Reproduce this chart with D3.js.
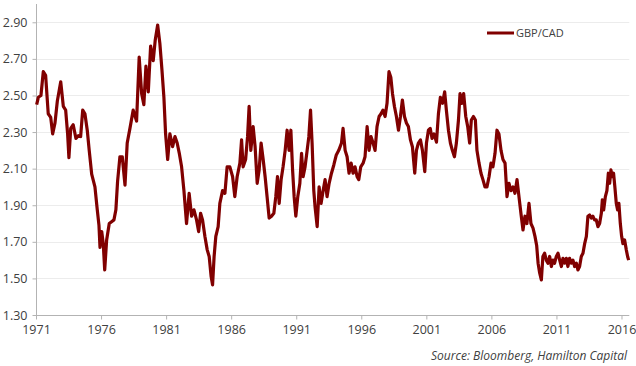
<!DOCTYPE html>
<html>
<head>
<meta charset="utf-8">
<script src="https://cdn.jsdelivr.net/npm/d3@7"></script>
<style>
  body { margin: 0; background: #fff; }
  text { font-family: "Open Sans", sans-serif; fill: #404040; }
</style>
</head>
<body>
<div id="chart-area"></div>
<script>
// GBP/CAD, values (decimal year, rate)
const years = [
  1971.05, 1971.18, 1971.38, 1971.56, 1971.74, 1971.94, 1972.13, 1972.28, 1972.46, 1972.64,
  1972.90, 1973.10, 1973.28, 1973.43, 1973.53, 1973.67, 1973.86, 1974.07, 1974.25, 1974.43,
  1974.59, 1974.76, 1974.94, 1975.09, 1975.28, 1975.53, 1975.71, 1975.84, 1975.92, 1976.05,
  1976.17, 1976.28, 1976.43, 1976.63, 1976.81, 1976.99, 1977.14, 1977.27, 1977.45, 1977.63,
  1977.84, 1978.01, 1978.22, 1978.47, 1978.73, 1978.93, 1979.12, 1979.29, 1979.45, 1979.63,
  1979.81, 1980.01, 1980.16, 1980.35, 1980.52, 1980.68, 1980.83, 1980.96, 1981.12, 1981.29,
  1981.50, 1981.68, 1981.85, 1982.01, 1982.19, 1982.37, 1982.57, 1982.77, 1982.96, 1983.14,
  1983.34, 1983.50, 1983.65, 1983.80, 1983.98, 1984.16, 1984.31, 1984.46, 1984.57, 1984.69,
  1984.82, 1985.00, 1985.13, 1985.34, 1985.52, 1985.69, 1985.90, 1986.11, 1986.28, 1986.46,
  1986.67, 1986.80, 1986.92, 1987.11, 1987.26, 1987.38, 1987.51, 1987.69, 1987.84, 1988.00,
  1988.15, 1988.30, 1988.46, 1988.61, 1988.76, 1988.92, 1989.10, 1989.28, 1989.43, 1989.56,
  1989.69, 1989.84, 1989.99, 1990.15, 1990.30, 1990.45, 1990.59, 1990.72, 1990.84, 1990.97,
  1991.12, 1991.28, 1991.41, 1991.53, 1991.68, 1991.84, 1991.97, 1992.10, 1992.22, 1992.35,
  1992.45, 1992.61, 1992.76, 1992.91, 1993.07, 1993.22, 1993.37, 1993.53, 1993.71, 1993.89,
  1994.08, 1994.27, 1994.48, 1994.60, 1994.76, 1994.91, 1995.06, 1995.22, 1995.37, 1995.52,
  1995.68, 1995.81, 1995.96, 1996.14, 1996.29, 1996.45, 1996.60, 1996.75, 1996.91, 1997.06,
  1997.21, 1997.37, 1997.52, 1997.67, 1997.83, 1997.98, 1998.13, 1998.27, 1998.40, 1998.55,
  1998.70, 1998.86, 1999.01, 1999.16, 1999.32, 1999.47, 1999.62, 1999.78, 1999.93, 2000.11,
  2000.24, 2000.39, 2000.55, 2000.70, 2000.88, 2001.01, 2001.16, 2001.30, 2001.44, 2001.59,
  2001.78, 2001.93, 2002.08, 2002.24, 2002.41, 2002.54, 2002.70, 2002.85, 2003.00, 2003.16,
  2003.31, 2003.47, 2003.59, 2003.74, 2003.87, 2004.03, 2004.18, 2004.33, 2004.46, 2004.62,
  2004.77, 2004.89, 2005.05, 2005.20, 2005.35, 2005.51, 2005.66, 2005.82, 2005.97, 2006.12,
  2006.28, 2006.43, 2006.58, 2006.74, 2006.89, 2007.05, 2007.20, 2007.35, 2007.51, 2007.66,
  2007.81, 2007.97, 2008.12, 2008.27, 2008.43, 2008.58, 2008.73, 2008.89, 2009.04, 2009.20,
  2009.35, 2009.48, 2009.59, 2009.71, 2009.84, 2009.96, 2010.09, 2010.22, 2010.35, 2010.48,
  2010.61, 2010.73, 2010.86, 2010.99, 2011.12, 2011.25, 2011.38, 2011.50, 2011.63, 2011.76,
  2011.88, 2012.01, 2012.14, 2012.27, 2012.40, 2012.53, 2012.65, 2012.78, 2012.91, 2013.04,
  2013.17, 2013.30, 2013.42, 2013.55, 2013.68, 2013.80, 2013.93, 2014.06, 2014.19, 2014.32,
  2014.45, 2014.53, 2014.63, 2014.76, 2014.88, 2014.99, 2015.09, 2015.19, 2015.29, 2015.39,
  2015.49, 2015.60, 2015.70, 2015.80, 2015.91, 2016.01, 2016.11, 2016.24, 2016.37, 2016.47,
  2016.55
]
const rates = [
  2.45, 2.49, 2.50, 2.63, 2.61, 2.40, 2.38, 2.29, 2.35, 2.47,
  2.575, 2.44, 2.42, 2.29, 2.16, 2.32, 2.34, 2.265, 2.28, 2.275,
  2.42, 2.40, 2.31, 2.20, 2.07, 2.00, 1.875, 1.79, 1.67, 1.756,
  1.69, 1.546, 1.71, 1.80, 1.81, 1.82, 1.875, 2.03, 2.165, 2.165,
  2.01, 2.24, 2.32, 2.42, 2.36, 2.71, 2.51, 2.45, 2.66, 2.52,
  2.77, 2.69, 2.80, 2.885, 2.785, 2.64, 2.49, 2.29, 2.15, 2.29,
  2.22, 2.275, 2.24, 2.185, 2.11, 1.98, 1.80, 1.965, 1.84, 1.875,
  1.82, 1.756, 1.856, 1.82, 1.73, 1.656, 1.62, 1.51, 1.465, 1.62,
  1.73, 1.783, 1.91, 1.98, 1.965, 2.11, 2.11, 2.056, 1.947, 2.056,
  2.13, 2.257, 2.11, 2.15, 2.275, 2.44, 2.20, 2.33, 2.22, 2.02,
  2.093, 2.24, 2.15, 2.056, 1.947, 1.83, 1.84, 1.856, 1.947, 2.056,
  1.91, 2.04, 2.11, 2.20, 2.31, 2.20, 2.31, 2.093, 1.947, 1.84,
  1.947, 2.02, 2.184, 2.056, 2.11, 2.20, 2.275, 2.42, 2.24, 1.98,
  1.89, 1.783, 2.00, 1.91, 1.98, 2.04, 1.947, 2.02, 2.075, 2.12,
  2.175, 2.20, 2.24, 2.32, 2.20, 2.165, 2.075, 2.13, 2.075, 2.11,
  2.056, 2.04, 2.11, 2.13, 2.165, 2.33, 2.20, 2.275, 2.24, 2.20,
  2.33, 2.385, 2.40, 2.42, 2.385, 2.457, 2.63, 2.60, 2.51, 2.44,
  2.385, 2.31, 2.385, 2.475, 2.385, 2.35, 2.33, 2.257, 2.22, 2.075,
  2.20, 2.24, 2.257, 2.20, 2.084, 2.24, 2.31, 2.32, 2.265, 2.29,
  2.245, 2.40, 2.49, 2.457, 2.52, 2.42, 2.31, 2.24, 2.20, 2.165,
  2.24, 2.366, 2.51, 2.457, 2.51, 2.385, 2.33, 2.24, 2.366, 2.385,
  2.366, 2.20, 2.13, 2.075, 2.04, 2.00, 2.00, 2.056, 2.13, 2.11,
  2.184, 2.31, 2.29, 2.20, 2.15, 2.13, 1.947, 2.02, 1.98, 2.00,
  1.965, 2.04, 1.947, 1.856, 1.765, 1.84, 1.80, 1.91, 1.80, 1.775,
  1.73, 1.68, 1.583, 1.53, 1.492, 1.62, 1.638, 1.60, 1.583, 1.62,
  1.565, 1.60, 1.583, 1.62, 1.638, 1.60, 1.565, 1.61, 1.583, 1.61,
  1.565, 1.61, 1.583, 1.60, 1.565, 1.583, 1.546, 1.565, 1.62, 1.638,
  1.69, 1.73, 1.84, 1.847, 1.83, 1.84, 1.82, 1.82, 1.783, 1.80,
  1.856, 1.93, 1.874, 1.947, 1.98, 2.075, 2.02, 2.093, 2.056, 2.075,
  2.00, 1.91, 1.874, 1.91, 1.80, 1.73, 1.69, 1.71, 1.656, 1.62,
  1.60
]
const yTicks = [1.30, 1.50, 1.70, 1.90, 2.10, 2.30, 2.50, 2.70, 2.90]
const xTicks = [1971, 1976, 1981, 1986, 1991, 1996, 2001, 2006, 2011, 2016]
const seriesName = "GBP/CAD"
const sourceNote = "Source: Bloomberg, Hamilton Capital"

const WIDTH = 636
const HEIGHT = 366
const PLOT = { LEFT: 36, RIGHT: 629.3, TOP: 4, BOTTOM: 315 }
const LINE_COLOR = "#800000"

const svg = d3.select("#chart-area").append("svg")
	.attr("width", WIDTH)
	.attr("height", HEIGHT)

// Scales
const x = d3.scaleLinear()
	.domain([1971, 2016.6])
	.range([PLOT.LEFT, PLOT.RIGHT])
const y = d3.scaleLinear()
	.domain([1.3, 3.0])
	.range([PLOT.BOTTOM, PLOT.TOP])

// Gridlines
svg.append("g")
	.selectAll("line")
	.data(yTicks.slice(1))
	.enter().append("line")
	.attr("x1", PLOT.LEFT)
	.attr("x2", PLOT.RIGHT)
	.attr("y1", d => Math.round(y(d)) + 0.5)
	.attr("y2", d => Math.round(y(d)) + 0.5)
	.attr("stroke", "#ececec")
	.attr("stroke-width", 1)

// Y Axis
const yAxisCall = d3.axisLeft(y)
	.tickValues(yTicks)
	.tickSize(4)
	.tickPadding(5)
	.tickFormat(d3.format(".2f"))
const yAxis = svg.append("g")
	.attr("transform", `translate(${PLOT.LEFT + 0.5}, 0)`)
	.call(yAxisCall)
yAxis.select(".domain")
	.attr("d", `M0,${PLOT.TOP}V${PLOT.BOTTOM}`)
	.attr("stroke", "#b3b3b3")
yAxis.selectAll(".tick line").attr("stroke", "#b3b3b3")
yAxis.selectAll("text")
	.attr("font-size", "12.5px")
	.style("fill", "#404040")

// X Axis
const xAxisCall = d3.axisBottom(x)
	.tickValues(xTicks)
	.tickSize(4)
	.tickPadding(6)
	.tickFormat(d3.format("d"))
const xAxis = svg.append("g")
	.attr("transform", `translate(0, ${PLOT.BOTTOM + 0.5})`)
	.call(xAxisCall)
xAxis.select(".domain")
	.attr("d", `M${PLOT.LEFT},0H${PLOT.RIGHT}`)
	.attr("stroke", "#b3b3b3")
xAxis.selectAll(".tick line").attr("stroke", "#b3b3b3")
xAxis.selectAll("text")
	.attr("font-size", "12.5px")
	.style("fill", "#404040")

// Series line
const data = years.map((yr, i) => ({ year: yr, rate: rates[i] }))
const line = d3.line()
	.x(d => x(d.year))
	.y(d => y(d.rate))
svg.append("path")
	.datum(data)
	.attr("fill", "none")
	.attr("stroke", LINE_COLOR)
	.attr("stroke-width", 3.2)
	.attr("stroke-linejoin", "round")
	.attr("d", line)

// Legend
const legend = svg.append("g")
	.attr("transform", "translate(487, 33)")
legend.append("line")
	.attr("x1", 0)
	.attr("x2", 27)
	.attr("stroke", LINE_COLOR)
	.attr("stroke-width", 3)
legend.append("text")
	.attr("x", 29)
	.attr("y", 4)
	.attr("font-size", "11px")
	.text(seriesName)

// Source note
svg.append("text")
	.attr("x", 627)
	.attr("y", 360)
	.attr("text-anchor", "end")
	.attr("font-size", "12px")
	.attr("font-style", "italic")
	.text(sourceNote)
</script>
</body>
</html>
